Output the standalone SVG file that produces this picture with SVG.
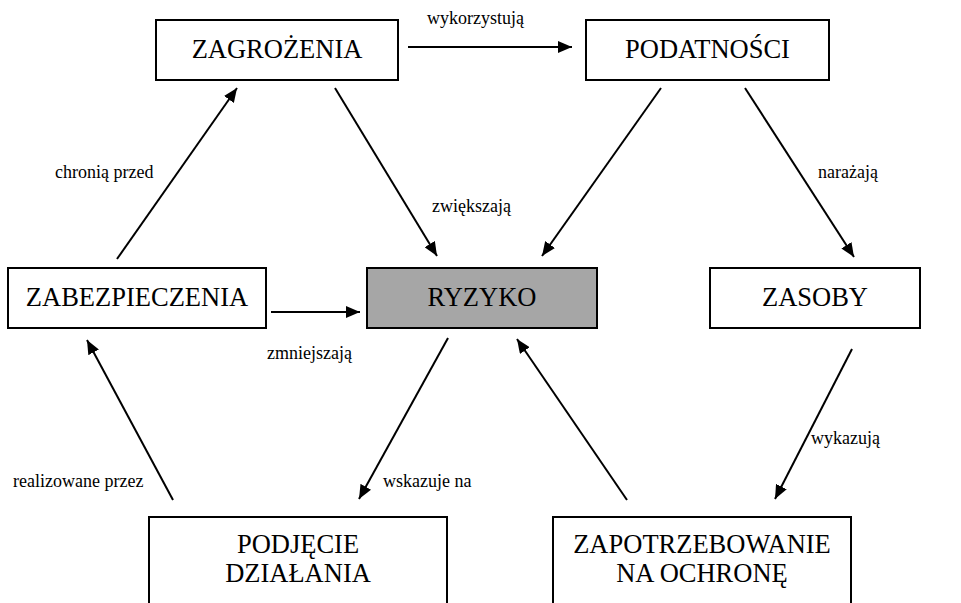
<svg xmlns="http://www.w3.org/2000/svg" width="961" height="603" viewBox="0 0 961 603">
<style>
.box{fill:#fff;stroke:#000;stroke-width:2}
.risk{fill:#a6a6a6;stroke:#000;stroke-width:2}
text{font-family:'Liberation Serif','Times New Roman',Times,'DejaVu Serif',serif;fill:#000}
.nt{font-size:26.5px;text-anchor:middle}
.lt{font-size:18px}
.c line{stroke:#000;stroke-width:2;marker-end:url(#ah)}
</style>
<defs>
<marker id="ah" viewBox="0 0 14 12" markerWidth="14" markerHeight="12" markerUnits="userSpaceOnUse" refX="14" refY="6" orient="auto">
<path d="M0,0 L14,6 L0,12 Z" fill="#000"/>
</marker>
</defs>
<rect width="961" height="603" fill="#fff"/>
<g id="zagrozenia"><rect class="box" x="156" y="20" width="242" height="60"/><text class="nt" x="277" y="57.5">ZAGROŻENIA</text></g>
<g id="podatnosci"><rect class="box" x="586" y="20" width="243" height="60"/><text class="nt" x="707.5" y="57.5">PODATNOŚCI</text></g>
<g id="zabezpieczenia"><rect class="box" x="8" y="268" width="258" height="60"/><text class="nt" x="137" y="305.5">ZABEZPIECZENIA</text></g>
<g id="ryzyko"><rect class="risk" x="367" y="268" width="230" height="60"/><text class="nt" x="482" y="305.5">RYZYKO</text></g>
<g id="zasoby"><rect class="box" x="710" y="268" width="210" height="60"/><text class="nt" x="815" y="305.5">ZASOBY</text></g>
<g id="podjecie"><rect class="box" x="149" y="517" width="298" height="110"/><text class="nt" x="298" y="553">PODJĘCIE</text><text class="nt" x="298" y="582">DZIAŁANIA</text></g>
<g id="zapotrzebowanie"><rect class="box" x="553" y="517" width="298" height="110"/><text class="nt" x="702" y="553">ZAPOTRZEBOWANIE</text><text class="nt" x="702" y="582">NA OCHRONĘ</text></g>
<g id="connectors" class="c">
<line x1="408" y1="47" x2="572" y2="47"/>
<line x1="117" y1="259" x2="237" y2="88"/>
<line x1="335" y1="88" x2="437" y2="256"/>
<line x1="661" y1="88" x2="542" y2="256"/>
<line x1="745" y1="88" x2="854" y2="257"/>
<line x1="271" y1="312" x2="360" y2="312"/>
<line x1="173" y1="500" x2="87" y2="340"/>
<line x1="448" y1="338" x2="359" y2="499"/>
<line x1="627" y1="500" x2="517" y2="339"/>
<line x1="852" y1="349" x2="775" y2="499"/>
</g>
<g id="labels">
<text class="lt" x="427" y="24">wykorzystują</text>
<text class="lt" x="55" y="178">chronią przed</text>
<text class="lt" x="432" y="212">zwiększają</text>
<text class="lt" x="818" y="178">narażają</text>
<text class="lt" x="267" y="359">zmniejszają</text>
<text class="lt" x="13" y="487">realizowane przez</text>
<text class="lt" x="383" y="487">wskazuje na</text>
<text class="lt" x="811" y="444">wykazują</text>
</g>
</svg>
